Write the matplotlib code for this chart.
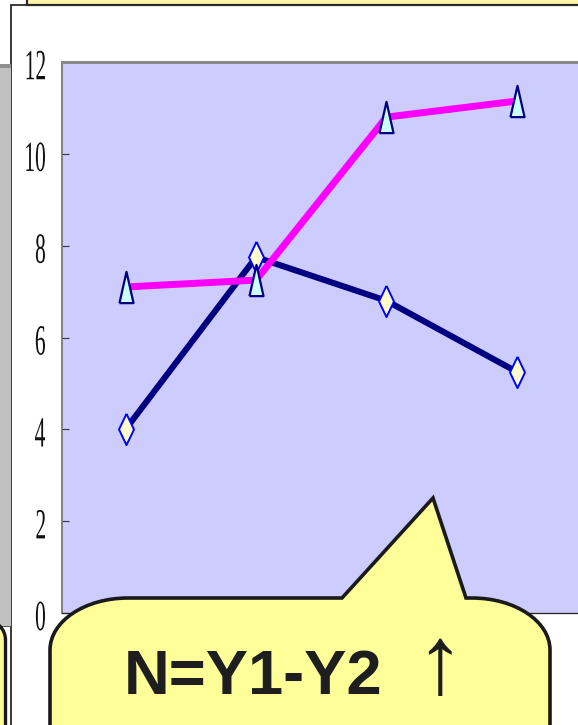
import numpy as np
import matplotlib
matplotlib.use("Agg")
import matplotlib.pyplot as plt
from matplotlib.path import Path
from matplotlib.patches import PathPatch, Rectangle
from matplotlib.textpath import TextPath
from matplotlib.font_manager import FontProperties
from matplotlib.transforms import Affine2D, IdentityTransform

# series values
y1 = [4.0, 7.75, 6.8, 5.25]      # navy, diamonds
y2 = [7.1, 7.25, 10.8, 11.15]    # magenta, triangles
yticks = [0, 2, 4, 6, 8, 10, 12]
note = "N=Y1-Y2"

W, H = 578, 725
fig = plt.figure(figsize=(W / 100, H / 100), dpi=100)
fig.patch.set_facecolor("white")


def px(x, y):
    # pixel (from top-left) -> figure fraction
    return x / W, 1 - y / H


def pxpath(verts, codes=None):
    pts = [px(x, y) for x, y in verts]
    return Path(pts, codes)


# background slide pieces
fig.add_artist(Rectangle(px(11, 900), 700 / W, (900 - 5) / H, transform=fig.transFigure,
                         facecolor="white", edgecolor="#1a1a1a", lw=1.2, zorder=-5))
fig.add_artist(Rectangle(px(27, 5), 700 / W, 30 / H, transform=fig.transFigure,
                         facecolor="#fef5a8", edgecolor="#2a2a2a", lw=1.6, zorder=-4))
fig.add_artist(Rectangle(px(-5, 626), 16 / W, (626 - 66) / H, transform=fig.transFigure,
                         facecolor="#c0c0c0", edgecolor="none", zorder=-4))
fig.add_artist(Rectangle(px(-5, 68), 16 / W, 4 / H, transform=fig.transFigure,
                         facecolor="#8f8f8f", edgecolor="none", zorder=-3))
fig.add_artist(Rectangle(px(-5, 627), 16 / W, 1.5 / H, transform=fig.transFigure,
                         facecolor="#555555", edgecolor="none", zorder=-3))

# chart
ax = fig.add_axes([62 / W, (H - 613) / H, (580.5 - 62) / W, (613 - 62) / H])
ax.set_facecolor("#ccccff")
x = np.arange(len(y1))

ax.plot(x, y1, color="#000080", lw=4.4, solid_capstyle="butt", zorder=2)
ax.plot(x, y2, color="#ff00ff", lw=5.0, solid_capstyle="butt", zorder=3)

diamond = [(0, 1), (0.48, 0), (0, -1), (-0.48, 0), (0, 1)]
tri = [(-0.45, -1), (0.45, -1), (0, 1), (-0.45, -1)]
ax.plot(x, y1, ls="none", marker=diamond, ms=22.5, mfc="#ffffcc",
        mec="#0000ff", mew=1.4, zorder=4)
ax.plot(x, y2, ls="none", marker=tri, ms=22.5, mfc="#ccffff",
        mec="#000080", mew=1.6, zorder=5)

ax.set_xlim(-0.487, 3.487)
ax.set_ylim(0, 12)
ax.set_xticks([])
ax.set_yticks(yticks)
ax.set_yticklabels([])
ax.tick_params(axis="y", direction="in", length=5, width=0.8, color="#333333")
ax.spines["top"].set_color("#8a8a8a")
ax.spines["top"].set_linewidth(2.2)
ax.spines["left"].set_color("#777777")
ax.spines["left"].set_linewidth(1.3)
ax.spines["bottom"].set_color("#222222")
ax.spines["bottom"].set_linewidth(0.9)
ax.spines["right"].set_visible(False)

# narrow serif tick labels drawn as squeezed glyph outlines
fp = FontProperties(family="Liberation Serif")
fig.canvas.draw()
for v in yticks:
    tp = TextPath((0, 0), str(v), size=43, prop=fp)
    ext = tp.get_extents()
    _, ty = ax.transData.transform((0, v))
    tr = (Affine2D().translate(-ext.x1, -(ext.y0 + ext.y1) / 2)
          .scale(0.5, 1.0).translate(45, ty - 3))
    fig.add_artist(PathPatch(tr.transform_path(tp), transform=IdentityTransform(),
                             facecolor="#111111", edgecolor="none", zorder=2))

# speech bubble
k = 0.5523
L, R, T, B = 50, 550, 598, 800
rx, ry = 78, 52
verts = [(L, B), (L, T + ry),
         (L, T + ry - k * ry), (L + rx - k * rx, T), (L + rx, T),
         (342, T), (433, 498), (466, T), (R - rx, T),
         (R - rx + k * rx, T), (R, T + ry - k * ry), (R, T + ry),
         (R, B), (L, B)]
codes = [Path.MOVETO, Path.LINETO,
         Path.CURVE4, Path.CURVE4, Path.CURVE4,
         Path.LINETO, Path.LINETO, Path.LINETO, Path.LINETO,
         Path.CURVE4, Path.CURVE4, Path.CURVE4,
         Path.LINETO, Path.CLOSEPOLY]
fig.add_artist(PathPatch(pxpath(verts, codes), transform=fig.transFigure,
                         facecolor="#ffff99", edgecolor="#1a1a1a", lw=2.6,
                         joinstyle="miter", zorder=10))

# edge of a neighbouring bubble on the left
r2 = 20
verts2 = [(-80, 800), (-80, 620), (5.5 - r2, 620),
          (5.5 - r2 + k * r2, 620), (5.5, 620 + r2 - k * r2), (5.5, 620 + r2),
          (5.5, 800), (-80, 800)]
codes2 = [Path.MOVETO, Path.LINETO, Path.LINETO,
          Path.CURVE4, Path.CURVE4, Path.CURVE4,
          Path.LINETO, Path.CLOSEPOLY]
fig.add_artist(PathPatch(pxpath(verts2, codes2), transform=fig.transFigure,
                         facecolor="#ffff99", edgecolor="#1a1a1a", lw=2.4, zorder=9))

fig.text(*px(124, 694), note, fontsize=45.5, fontweight="bold",
         family=["Liberation Sans", "DejaVu Sans"], color="#1e1e1e",
         ha="left", va="baseline", zorder=11)
fig.text(*px(439, 668), "\u2191", fontsize=70,
         family=["Liberation Sans", "DejaVu Sans"], color="#1e1e1e",
         ha="center", va="center", zorder=11)

fig.savefig("out.png", dpi=100, facecolor="white")
